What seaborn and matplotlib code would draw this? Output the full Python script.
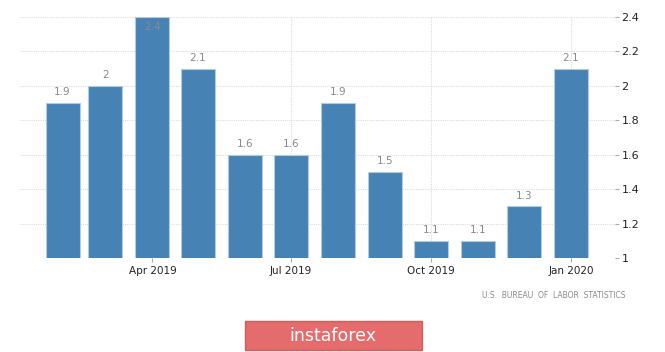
import matplotlib
matplotlib.use("Agg")
import matplotlib.pyplot as plt
import matplotlib.dates as mdates
from matplotlib.patches import Rectangle
import seaborn as sb
import pandas as pd
import numpy as np
import datetime as dt

# data
months = ["2019-02-01", "2019-03-01", "2019-04-01", "2019-05-01", "2019-06-01", "2019-07-01",
          "2019-08-01", "2019-09-01", "2019-10-01", "2019-11-01", "2019-12-01", "2020-01-01"]
values = [1.9, 2.0, 2.4, 2.1, 1.6, 1.6, 1.9, 1.5, 1.1, 1.1, 1.3, 2.1]
tick_dates = ["2019-04-01", "2019-07-01", "2019-10-01", "2020-01-01"]
tick_labels = ["Apr 2019", "Jul 2019", "Oct 2019", "Jan 2020"]
y_ticks = [1, 1.2, 1.4, 1.6, 1.8, 2, 2.2, 2.4]
y_labels = ["1", "1.2", "1.4", "1.6", "1.8", "2", "2.2", "2.4"]

sb.set_style("white")
plt.rcParams['font.family'] = ['DejaVu Sans']

df = pd.DataFrame({"date": mdates.date2num(pd.to_datetime(months)), "value": values})

fig = plt.figure(figsize=[6.65, 3.52], dpi=100)
ax = fig.add_axes([0.030, 0.267, 0.895, 0.685])

sb.barplot(data=df, x="date", y="value", native_scale=True, width=0.8,
           color="#4682b4", saturation=1, edgecolor="#b3cbe2", linewidth=0.8, ax=ax)

ax.set_ylim(1, 2.4)
ax.set_xlim(mdates.date2num(dt.date(2019, 1, 4)), mdates.date2num(dt.date(2020, 1, 30)))

# value labels
for d, v in zip(df["date"], df["value"]):
    lab = "{:g}".format(v)
    if v >= 2.4:
        ax.annotate(lab, (d, v), xytext=(0, -4), textcoords="offset points",
                    ha="center", va="top", fontsize=7.5, color="#8a8a8a")
    else:
        ax.annotate(lab, (d, v), xytext=(0, 4), textcoords="offset points",
                    ha="center", va="bottom", fontsize=7.5, color="#8a8a8a")

ax.set_xticks(mdates.date2num(pd.to_datetime(tick_dates)))
ax.set_xticklabels(tick_labels, fontsize=7.5, color="#222222")
ax.set_yticks(y_ticks)
ax.set_yticklabels(y_labels, fontsize=8, color="#222222")
ax.yaxis.tick_right()
ax.tick_params(axis="y", length=3, color="#aaaaaa", pad=1.5, right=True)
ax.tick_params(axis="x", length=3, color="#aaaaaa", pad=3, bottom=True)

ax.grid(True, linestyle=(0, (1, 1)), color="#dcdcdc", linewidth=0.8)
ax.set_axisbelow(True)
for s in ax.spines.values():
    s.set_visible(False)
ax.set_xlabel("")
ax.set_ylabel("")

fig.text(0.940, 0.16, "U.S.  BUREAU  OF  LABOR  STATISTICS", ha="right", va="center",
         fontsize=5.5, color="#8a8a8a")

# instaforex banner
fig.patches.append(Rectangle((245 / 665, 2 / 352), 177 / 665, 29 / 352, transform=fig.transFigure,
                             facecolor="#e46c6c", edgecolor="#d35c5c", figure=fig))
fig.text(333 / 665, 16 / 352, "instaforex", ha="center", va="center", fontsize=12.5, color="white")

fig.savefig("out.png", dpi=100)
